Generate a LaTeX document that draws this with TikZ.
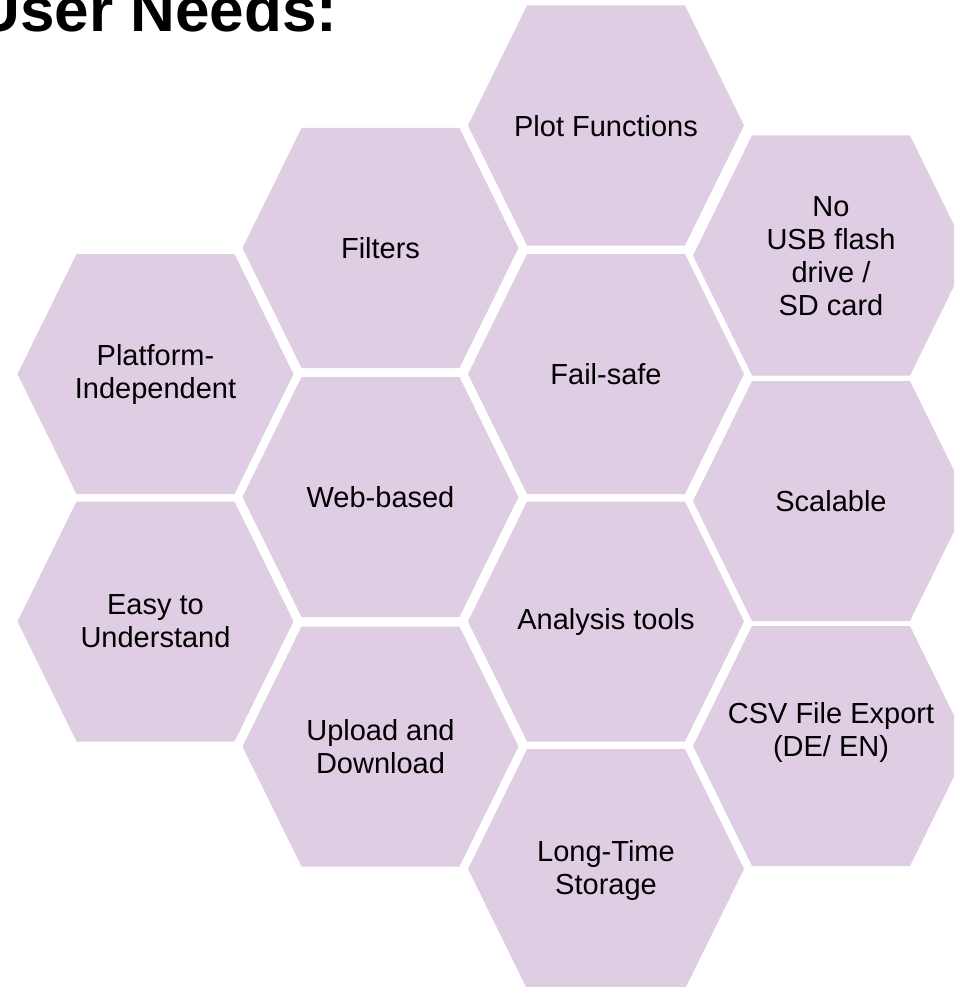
\documentclass[tikz,border=0pt]{standalone}
\usepackage{fontspec}
\setmainfont{Liberation Sans}
\definecolor{hexpurple}{RGB}{223,205,228}
\tikzset{
  hexfill/.style={fill=hexpurple},
  hexlabel/.style={align=center, inner sep=0pt, text=black, font=\fontsize{29}{33}\selectfont},
  titletext/.style={anchor=base west, inner sep=0pt, font=\bfseries\fontsize{62}{62}\selectfont}
}
\newcommand\hexcell[5]{%
  \fill[hexfill] (#2-138,#3) -- (#2-79,#3-120) -- (#2+79,#3-120) -- (#2+138,#3)
     -- (#2+79,#3+120) -- (#2-79,#3+120) -- cycle;
  \node[hexlabel] (#1) at (#2,#4) {#5};
}
\begin{document}
\begin{tikzpicture}[x=1pt,y=-1pt]
\useasboundingbox (0,0) rectangle (954,987);
\clip (0,0) rectangle (954,987);
% column 1
\hexcell{platform}{155.5}{374}{374}{Platform-\\Independent}
\hexcell{easy}{155.5}{621.5}{621.5}{Easy to\\Understand}
% column 2
\hexcell{filters}{380.5}{248}{248}{Filters}
\hexcell{web}{380.5}{497}{497}{Web-based}
\hexcell{upload}{380.5}{746.5}{746.5}{Upload and\\Download}
% column 3
\hexcell{plot}{606}{125.5}{126}{Plot Functions}
\hexcell{failsafe}{606}{374}{374}{Fail-safe}
\hexcell{analysis}{606}{621.5}{622}{Analysis tools}
\hexcell{longtime}{606}{869}{870}{Long-Time\\Storage}
% column 4
\hexcell{nousb}{831}{255.5}{256}{No\\USB flash\\drive /\\SD card}
\hexcell{scalable}{831}{501}{501}{Scalable}
\hexcell{csv}{831}{746}{732}{CSV File Export\\(DE/ EN)}
% title
\node[titletext] (title) at (-24.5,32) {User Needs:};
\end{tikzpicture}
\end{document}
